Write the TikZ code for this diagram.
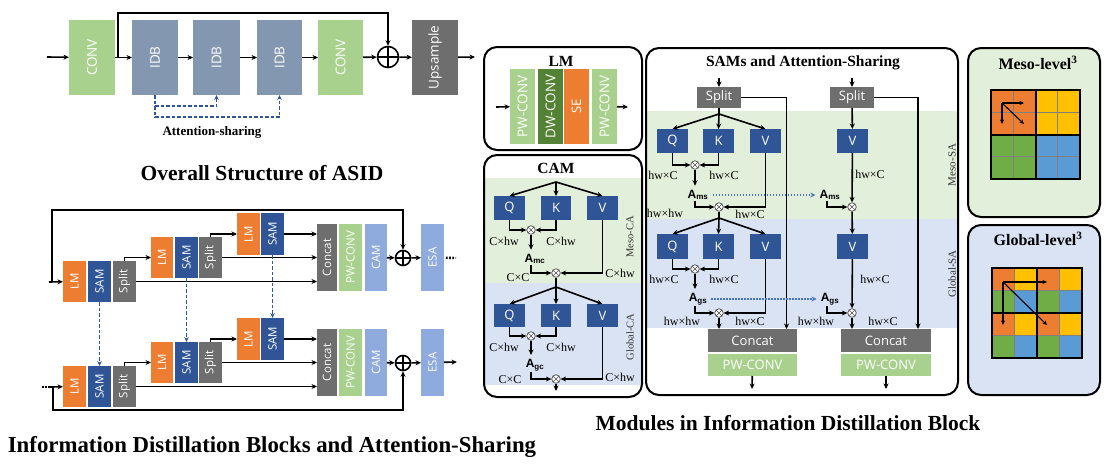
\documentclass[tikz,border=0pt]{standalone}
\usepackage{fontspec}
\usepackage{graphicx}
\setmainfont{Liberation Serif}
\newfontfamily\boxfont{Open Sans}
\newfontfamily\afont{Liberation Sans}
\usetikzlibrary{arrows.meta}

\definecolor{cgreen}{HTML}{A9D18E}
\definecolor{cidb}{HTML}{8497B0}
\definecolor{cgray}{HTML}{6E6E6E}
\definecolor{corange}{HTML}{ED7D31}
\definecolor{csam}{HTML}{2F5597}
\definecolor{ccam}{HTML}{8FAADC}
\definecolor{cdw}{HTML}{548235}
\definecolor{cmeso}{HTML}{E2EFDA}
\definecolor{cglob}{HTML}{DAE3F3}
\definecolor{cyel}{HTML}{FFC000}
\definecolor{cgrn}{HTML}{70AD47}
\definecolor{cblu}{HTML}{5B9BD5}
\definecolor{cdot}{HTML}{4472C4}
\colorlet{q00}{corange}
\colorlet{q10}{cyel}
\colorlet{q01}{cgrn}
\colorlet{q11}{cblu}

% block from its corners: [style]{name}{x1}{y1}{x2}{y2}{fill}{text}
\newcommand{\mkblock}[8][]{%
  \node[blk, fill=#7, minimum width={((#5)-(#3))*1pt}, minimum height={((#6)-(#4))*1pt}, #1]
    (#2) at ({((#3)+(#5))/2},{((#4)+(#6))/2}) {#8};}

\tikzset{
  blk/.style={inner sep=0pt, outer sep=0pt, text=white, font=\boxfont\fontsize{11.5}{12}\selectfont},
  big/.style={font=\boxfont\fontsize{13.5}{14}\selectfont},
  mid/.style={font=\boxfont\fontsize{13}{14}\selectfont},
  ln/.style={line width=1.6pt},
  arr/.style={ln, -{Stealth[length=5.5pt,width=5pt]}},
  share/.style={line width=1.6pt, csam, dash pattern=on 3.5pt off 2pt, -{Stealth[length=5pt,width=4.5pt]}},
  dotarr/.style={line width=1.4pt, cdot, dash pattern=on 1.2pt off 1.8pt, -{Stealth[length=5pt,width=5pt]}},
  dotline/.style={line width=2.4pt, dash pattern=on 1.6pt off 1.6pt},
  oplus/.style={circle, draw, fill=white, line width=1.6pt, inner sep=0pt, minimum size=#1,
    path picture={\draw[line width=1.6pt] (path picture bounding box.north) -- (path picture bounding box.south)
      (path picture bounding box.west) -- (path picture bounding box.east);}},
  oplus/.default=20pt,
  otimes/.style={circle, draw=black!70, fill=white, line width=0.7pt, inner sep=0pt, minimum size=8.5pt,
    path picture={\draw[line width=0.6pt, black!70] (path picture bounding box.north west) -- (path picture bounding box.south east)
      (path picture bounding box.north east) -- (path picture bounding box.south west);}},
  lab/.style={inner sep=0pt, font=\fontsize{12}{12}\selectfont},
  amat/.style={inner sep=1pt, font=\afont\bfseries\fontsize{12}{12}\selectfont},
  ttl/.style={font=\bfseries\fontsize{21.5}{22}\selectfont},
  sub/.style={font=\bfseries\fontsize{15.5}{16}\selectfont},
  side/.style={rotate=90, inner sep=0pt, text=black!80, font=\fontsize{11}{11}\selectfont},
  box/.style={line width=2pt, rounded corners=13pt},
  cellln/.style={line width=1pt, gray},
  garr/.style={line width=1.1pt, -{Stealth[length=4.5pt,width=4pt]}},
}

\begin{document}
\begin{tikzpicture}[x=1pt, y=-1pt]
\useasboundingbox (0,0) rectangle (1108,472);

% overall structure
\coordinate (in0) at (47,57);
\coordinate (sk0) at (118,57);
\coordinate (out0) at (475,57);
\mkblock[big]{conv1}{69}{20}{115}{95}{cgreen}{\rotatebox{90}{CONV}}
\mkblock[big]{idb1}{132}{20}{178}{95}{cidb}{\rotatebox{90}{IDB}}
\mkblock[big]{idb2}{193}{20}{240}{95}{cidb}{\rotatebox{90}{IDB}}
\mkblock[big]{idb3}{257}{20}{302}{95}{cidb}{\rotatebox{90}{IDB}}
\mkblock[big]{conv2}{318}{20}{363}{95}{cgreen}{\rotatebox{90}{CONV}}
\node[oplus=21pt] (pl0) at (388,57) {};
\mkblock[big]{ups}{412}{20}{458}{95}{cgray}{\rotatebox{90}{Upsample}}
\draw[arr] (in0) -- (conv1);
\draw[arr] (conv1) -- (idb1);
\draw[arr] (idb1) -- (idb2);
\draw[arr] (idb2) -- (idb3);
\draw[arr] (idb3) -- (conv2);
\draw[arr] (conv2) -- (pl0);
\draw[arr] (pl0) -- (ups);
\draw[arr] (ups) -- (out0);
\draw[arr, line width=2.2pt] (sk0) -- ++(0,-44) -| (pl0);
\draw[share] (idb1.south) -- ++(0,11) -| (idb2.south);
\draw[share] (idb1.south) -- ++(0,22) -| (idb3.south);
\node[font=\bfseries\fontsize{13}{13}\selectfont] (atsh) at (212,132) {Attention-sharing};
\node[ttl] (ttl1) at (262,173) {Overall Structure of ASID};

% information distillation blocks
\foreach \r/\dy in {a/0, b/105} {
  \mkblock{lm1\r}{63}{261+\dy}{86}{302+\dy}{corange}{\rotatebox{90}{LM}}
  \mkblock{sam1\r}{88}{261+\dy}{111}{302+\dy}{csam}{\rotatebox{90}{SAM}}
  \mkblock{sp1\r}{113}{261+\dy}{136}{302+\dy}{cgray}{\rotatebox{90}{Split}}
  \mkblock{lm2\r}{151}{237+\dy}{173}{278+\dy}{corange}{\rotatebox{90}{LM}}
  \mkblock{sam2\r}{175}{237+\dy}{198}{278+\dy}{csam}{\rotatebox{90}{SAM}}
  \mkblock{sp2\r}{199}{237+\dy}{222}{278+\dy}{cgray}{\rotatebox{90}{Split}}
  \mkblock{lm3\r}{237}{213+\dy}{260}{255+\dy}{corange}{\rotatebox{90}{LM}}
  \mkblock{sam3\r}{261}{213+\dy}{284}{255+\dy}{csam}{\rotatebox{90}{SAM}}
  \mkblock{cc\r}{317}{224+\dy}{337}{291+\dy}{cgray}{\rotatebox{90}{Concat}}
  \mkblock{pw\r}{339}{224+\dy}{362}{291+\dy}{cgreen}{\rotatebox{90}{PW-CONV}}
  \mkblock{cm\r}{365}{224+\dy}{387}{291+\dy}{ccam}{\rotatebox{90}{CAM}}
  \node[oplus=15pt] (pl\r) at ({403},{258+\dy}) {};
  \mkblock{esa\r}{421}{224+\dy}{444}{291+\dy}{ccam}{\rotatebox{90}{ESA}}
  \draw[arr] (sp1\r.north) |- (lm2\r);
  \draw[arr] (sp2\r.north) |- (lm3\r);
  \draw[arr] (sam3\r) -- (sam3\r -| cc\r.west);
  \draw[arr] (sp2\r) -- (sp2\r -| cc\r.west);
  \draw[arr] (sp1\r) -- (sp1\r -| cc\r.west);
  \draw[arr] (cm\r) -- (pl\r);
  \draw[arr] (pl\r) -- (esa\r);
}
\coordinate (ina) at (49,282);
\coordinate (ska) at (52,282);
\coordinate (outa) at (456,258);
\draw[arr] (ina) -- (lm1a);
\draw[arr] (ska) -- ++(0,-72) -| (pla);
\draw[dotline, shorten <=2pt] (esaa) -- (outa);
\coordinate (inb) at (42,387);
\coordinate (inb2) at (50,387);
\coordinate (skb) at (53,387);
\coordinate (outb) at (457,362);
\draw[dotline] (inb) -- (inb2);
\draw[arr] (inb2) -- (lm1b);
\draw[arr] (skb) -- ++(0,23) -| (plb);
\draw[arr] (esab) -- (outb);
\draw[share] (sam1a) -- (sam1b);
\draw[share] (sam2a) -- (sam2b);
\draw[share] (sam3a) -- (sam3b);
\node[ttl, font=\bfseries\fontsize{22.8}{23}\selectfont] (ttl2) at (272,447) {Information Distillation Blocks and Attention-Sharing};

% LM
\draw[box] (484,47) rectangle (642,150);
\node[sub] (lmt) at (561,61) {LM};
\mkblock[big]{pwc1}{510}{69}{535}{144}{cgreen}{\rotatebox{90}{PW-CONV}}
\mkblock[big]{dwc}{538}{69}{563}{144}{cdw}{\rotatebox{90}{DW-CONV}}
\mkblock[mid]{se}{564}{69}{589}{144}{corange}{\rotatebox{90}{SE}}
\mkblock[big]{pwc2}{592}{69}{617}{144}{cgreen}{\rotatebox{90}{PW-CONV}}
\coordinate (lmin) at (496,107);
\coordinate (lmout) at (628,107);
\draw[arr] (lmin) -- (pwc1);
\draw[arr] (pwc2) -- (lmout);

% CAM
\fill[cmeso] (484,178) rectangle (642,283);
\fill[cglob] (484,283) rectangle (642,385);
\draw[box] (484,155) rectangle (642,397);
\node[sub] (camt) at (556,168) {CAM};
\node[side, font=\fontsize{10.5}{11}\selectfont] (mca) at (630,237) {Meso-CA};
\node[side, font=\fontsize{10.5}{11}\selectfont] (gca) at (630,337) {Global-CA};
\coordinate (cs1) at (556,182);
\mkblock[mid]{qc1}{494}{196}{525}{220}{csam}{Q}
\mkblock[mid]{kc1}{541}{196}{571}{220}{csam}{K}
\mkblock[mid]{vc1}{587}{196}{618}{220}{csam}{V}
\foreach \t in {qc1,kc1,vc1} \draw[arr] (cs1) -- (\t.north);
\node[otimes] (oc1) at (531,230) {};
\draw[arr] (qc1.south) |- (oc1);
\draw[arr] (kc1.south) |- (oc1);
\node[amat] (amc) at (535,259) {A\textsubscript{mc}};
\draw[arr, shorten >=3pt] (oc1) -- (oc1 |- amc.north);
\node[otimes] (oc2) at (556,273) {};
\draw[arr] ([xshift=-4pt]amc.south) |- (oc2);
\draw[arr] (vc1.south) |- (oc2);
\node[lab] (lc1) at (504,241) {C×hw};
\node[lab] (lc2) at (561,241) {C×hw};
\node[lab] (lc3) at (518,278) {C×C};
\node[lab] (lc4) at (620,273) {C×hw};
\coordinate (cs2) at (556,287);
\draw[ln] (oc2) -- (cs2);
\mkblock[mid]{qc2}{494}{304}{525}{327}{csam}{Q}
\mkblock[mid]{kc2}{541}{304}{571}{327}{csam}{K}
\mkblock[mid]{vc2}{587}{304}{618}{327}{csam}{V}
\foreach \t in {qc2,kc2,vc2} \draw[arr] (cs2) -- (\t.north);
\node[otimes] (oc3) at (531,336) {};
\draw[arr] (qc2.south) |- (oc3);
\draw[arr] (kc2.south) |- (oc3);
\node[amat] (agc) at (535,365) {A\textsubscript{gc}};
\draw[arr, shorten >=3pt] (oc3) -- (oc3 |- agc.north);
\node[otimes] (oc4) at (556,379) {};
\draw[arr] ([xshift=-4pt]agc.south) |- (oc4);
\draw[arr] (vc2.south) |- (oc4);
\node[lab] (lc5) at (504,347) {C×hw};
\node[lab] (lc6) at (561,347) {C×hw};
\node[lab] (lc7) at (510,380) {C×C};
\node[lab] (lc8) at (620,377) {C×hw};
\coordinate (cout) at (556,391);
\draw[arr] (oc4) -- (cout);

% SAMs and attention-sharing
\fill[cmeso] (646,111) rectangle (958,219);
\fill[cglob] (646,219) rectangle (958,328);
\draw[box] (646,48) rectangle (958,395);
\node[sub] (samt) at (803,63) {SAMs and Attention-Sharing};
\node[side] (msa) at (952,165) {Meso-SA};
\node[side] (gsa) at (952,274) {Global-SA};
\coordinate (sinl) at (719,78);
\coordinate (sinr) at (852,78);
\mkblock[mid]{spl}{697}{87}{741}{108}{cgray}{Split}
\mkblock[mid]{spr}{830}{87}{874}{108}{cgray}{Split}
\draw[arr] (sinl) -- (spl);
\draw[arr] (sinr) -- (spr);
\mkblock[mid]{ccl}{708}{329}{797}{352}{cgray}{Concat}
\mkblock[mid]{pwl}{708}{354}{797}{376}{cgreen}{PW-CONV}
\mkblock[mid]{ccr}{841}{329}{931}{352}{cgray}{Concat}
\mkblock[mid]{pwr}{841}{354}{931}{376}{cgreen}{PW-CONV}
\draw[arr] (spl.east) -| ([xshift=34pt]ccl.north);
\draw[arr] (spr.east) -| ([xshift=32pt]ccr.north);
% left branch
\coordinate (ss1) at (719,114);
\draw[ln] (spl) -- (ss1);
\mkblock[mid]{qs1}{657}{129}{688}{153}{csam}{Q}
\mkblock[mid]{ks1}{703}{129}{734}{153}{csam}{K}
\mkblock[mid]{vs1}{750}{129}{781}{153}{csam}{V}
\foreach \t in {qs1,ks1,vs1} \draw[arr] (ss1) -- (\t.north);
\node[otimes] (os1) at (695,165) {};
\draw[arr] (qs1.south) |- (os1);
\draw[arr] (ks1.south) |- (os1);
\node[amat] (ams) at (698,195) {A\textsubscript{ms}};
\draw[arr, shorten >=3pt] (os1) -- (os1 |- ams.north);
\node[otimes] (os2) at (719,207) {};
\draw[arr] ([xshift=-3pt]ams.south) |- (os2);
\draw[arr] (vs1.south) |- (os2);
\node[lab] (ls1) at (663,175) {hw×C};
\node[lab] (ls2) at (724,175) {hw×C};
\node[lab] (ls3) at (665,213) {hw×hw};
\node[lab] (ls4) at (750,214) {hw×C};
\coordinate (ss2) at (719,218);
\draw[ln] (os2) -- (ss2);
\mkblock[mid]{qs2}{657}{234}{688}{259}{csam}{Q}
\mkblock[mid]{ks2}{703}{234}{734}{259}{csam}{K}
\mkblock[mid]{vs2}{750}{234}{781}{259}{csam}{V}
\foreach \t in {qs2,ks2,vs2} \draw[arr] (ss2) -- (\t.north);
\node[otimes] (os3) at (695,269) {};
\draw[arr] (qs2.south) |- (os3);
\draw[arr] (ks2.south) |- (os3);
\node[amat] (ags) at (698,299) {A\textsubscript{gs}};
\draw[arr, shorten >=3pt] (os3) -- (os3 |- ags.north);
\node[otimes] (os4) at (719,313) {};
\draw[arr] ([xshift=-3pt]ags.south) |- (os4);
\draw[arr] (vs2.south) |- (os4);
\draw[arr] (os4) -- (os4 |- ccl.north);
\node[lab] (ls5) at (664,279) {hw×C};
\node[lab] (ls6) at (724,279) {hw×C};
\node[lab] (ls7) at (682,321) {hw×hw};
\node[lab] (ls8) at (750,321) {hw×C};
\coordinate (soutl) at (752,389);
\draw[arr] (pwl) -- (soutl);
% right branch
\mkblock[mid]{vr1}{837}{129}{868}{153}{csam}{V}
\draw[arr] (spr) -- (vr1);
\node[amat] (amr) at (830,195) {A\textsubscript{ms}};
\node[otimes] (or1) at (852,207) {};
\draw[arr] (vr1) -- (or1);
\draw[arr] ([xshift=-3pt]amr.south) |- (or1);
\mkblock[mid]{vr2}{837}{234}{868}{259}{csam}{V}
\draw[arr] (or1) -- (vr2);
\node[amat] (agr) at (830,299) {A\textsubscript{gs}};
\node[otimes] (or2) at (852,313) {};
\draw[arr] (vr2) -- (or2);
\draw[arr] ([xshift=-3pt]agr.south) |- (or2);
\draw[arr] (or2) -- (or2 |- ccr.north);
\node[lab] (lr1) at (870,174) {hw×C};
\node[lab] (lr2) at (875,279) {hw×C};
\node[lab] (lr3) at (816,321) {hw×hw};
\node[lab] (lr4) at (883,321) {hw×C};
\coordinate (soutr) at (886,389);
\draw[arr] (pwr) -- (soutr);
% attention-sharing
\draw[dotarr, shorten <=3pt, shorten >=3pt] (ams) -- (amr);
\draw[dotarr, shorten <=3pt, shorten >=3pt] (ags) -- (agr);
\node[ttl] (ttl3) at (788,423) {Modules in Information Distillation Block};

% meso-level
\draw[box, fill=cmeso] (968,48) rectangle (1100,217);
\node[font=\bfseries\fontsize{16}{16}\selectfont] (mlt) at (1038,63) {Meso-level\textsuperscript{3}};
\foreach \i in {0,...,3} \foreach \j in {0,...,3} {
  \pgfmathtruncatemacro\qa{floor(\i/2)}
  \pgfmathtruncatemacro\qb{floor(\j/2)}
  \fill[q\qa\qb] ({991+\i*22.25},{90+\j*22.25}) rectangle ++(22.25,22.25);
}
\foreach \k in {1,3} {
  \draw[cellln] ({991+\k*22.25},90) -- ++(0,89);
  \draw[cellln] (991,{90+\k*22.25}) -- ++(89,0);
}
\draw[line width=2pt] (991,90) rectangle ++(89,89);
\draw[line width=2pt] (1035.5,90) -- ++(0,89) (991,134.5) -- ++(89,0);
\draw[garr] (1002,103) -- (1024,103);
\draw[garr] (1002,103) -- (1002,124);
\draw[garr] (1002,103) -- (1024,124);

% global-level
\draw[box, fill=cglob] (968,225) rectangle (1100,395);
\node[font=\bfseries\fontsize{16}{16}\selectfont] (glt) at (1038,239) {Global-level\textsuperscript{3}};
\foreach \i in {0,...,3} \foreach \j in {0,...,3} {
  \pgfmathtruncatemacro\qa{mod(\i,2)}
  \pgfmathtruncatemacro\qb{mod(\j,2)}
  \fill[q\qa\qb] ({992+\i*22.5},{268+\j*22.5}) rectangle ++(22.5,22.5);
}
\foreach \k in {1,3} {
  \draw[cellln] ({992+\k*22.5},268) -- ++(0,90);
  \draw[cellln] (992,{268+\k*22.5}) -- ++(90,0);
}
\draw[line width=2pt] (992,268) rectangle ++(90,90);
\draw[line width=2pt] (1037,268) -- ++(0,90) (992,313) -- ++(90,0);
\draw[garr] (1003,282) -- (1047,282);
\draw[garr] (1003,282) -- (1003,325);
\draw[garr] (1003,282) -- (1047,325);

\end{tikzpicture}
\end{document}
